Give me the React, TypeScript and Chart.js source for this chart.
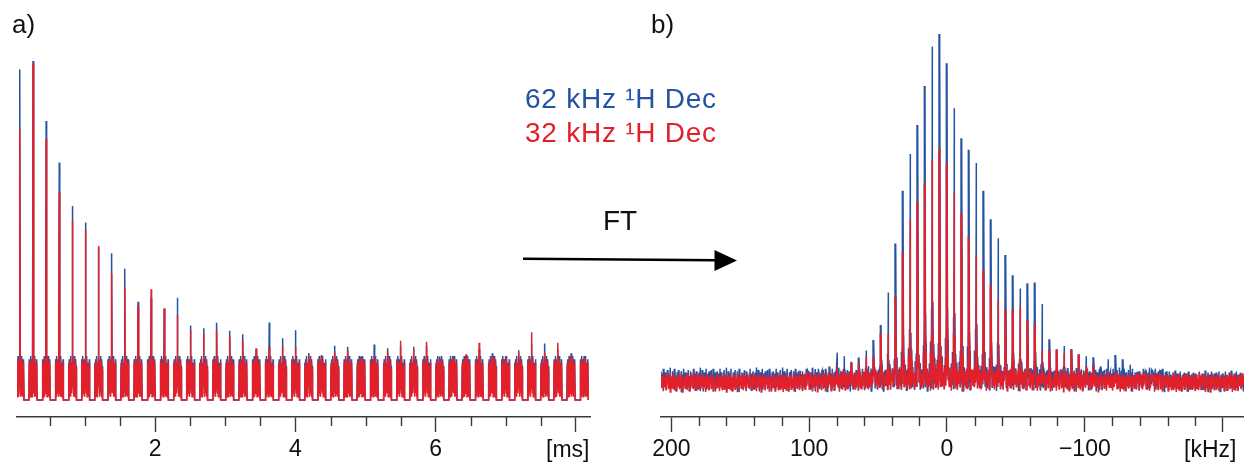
import React, { useEffect, useRef } from 'react';
import { Chart, registerables } from 'chart.js';

Chart.register(...registerables);

const BLUE = '#2453a2';
const RED = '#e3202a';
const AXIS = '#3a3a3a';
const FONT = '"Liberation Sans", Arial, Helvetica, sans-serif';

// ---------- panel a: echo train (time domain) ----------
const firstEchoMs = 0.0714;
const echoSpacingMs = 0.1871;
const echoPeaksBlue = [97.5, 100, 82.3, 70.1, 57.2, 52.4, 45.0, 43.3, 38.7, 29.0, 30.0, 27.0, 30.2, 22.0, 21.2, 22.8, 20.4, 19.4, 15.0, 22.9, 18.2, 20.6, 13.9, 13.3, 16.0, 15.7, 12.8, 16.4, 15.3, 15.9, 15.7, 16.0, 12.8, 13.0, 13.3, 15.0, 13.8, 13.0, 14.7, 16.7, 16.7, 15.0, 13.8, 13.0];
const echoPeaksRed = [79.9, 99.3, 76.9, 61.3, 52.8, 50.4, 45.4, 37.4, 33.2, 27.7, 32.7, 27.0, 25.1, 20.6, 19.7, 20.6, 18.7, 17.7, 15.3, 15.7, 16.0, 15.7, 13.5, 13.0, 14.2, 14.7, 12.5, 12.8, 14.5, 17.5, 15.0, 17.2, 12.0, 12.5, 13.5, 16.9, 13.0, 12.5, 14.0, 20.0, 14.0, 16.9, 13.0, 12.5];
// offsets (ms) of the points that shape one echo around its centre
const echoOffsets = [-0.0585, -0.054, -0.0495, -0.045, -0.0405, -0.036, -0.0315, -0.027, -0.0225, -0.018, -0.0135, -0.009, -0.0045, 0, 0.0045, 0.009, 0.0135, 0.018, 0.0225, 0.027, 0.0315, 0.036, 0.0405, 0.045, 0.0495, 0.054, 0.0585];
const echoCentreIndex = 13;
// body of an echo (value at each offset; centre replaced by the peak)
const echoBodyRedA = [0, 10, 2, 11, 1, 8, 3, 12, 1, 9, 2, 10, 4, 0, 5, 11, 1, 9, 3, 12, 2, 8, 1, 11, 3, 9, 0];
const echoBodyRedB = [0, 11, 3, 8, 1, 12, 2, 9, 4, 11, 1, 8, 3, 0, 4, 10, 2, 12, 1, 9, 4, 10, 1, 9, 2, 11, 0];
const echoBodyBlueA = [0, 11, 3, 12, 2, 9, 4, 13, 2, 10, 3, 11, 5, 0, 6, 12, 2, 10, 4, 13, 3, 9, 2, 12, 4, 10, 0];
const echoBodyBlueB = [0, 12, 4, 9, 2, 13, 3, 10, 5, 12, 2, 9, 4, 0, 5, 11, 3, 13, 2, 10, 5, 11, 2, 10, 3, 12, 0];
const majorTicksMs = ['2', '4', '6'];
const minorTicksMs = [0.5, 1, 1.5, 2.5, 3, 3.5, 4.5, 5, 5.5, 6.5, 7, 7.5];

// ---------- panel b: spectrum (frequency domain) ----------
const spikeSpacingKHz = 5.32;
const firstSpikeN = 20; // spikelet index of first entry (then decreasing)
const spikeBlue = [3.5, 3.5, 4.0, 3.7, 4.7, 8.7, 7.7, 6.1, 7.3, 9.3, 12.3, 16.6, 25.9, 40.0, 55.1, 65.6, 73.9, 85.1, 96.4, 100, 91.6, 78.7, 70.1, 66.8, 63.0, 55.1, 46.9, 41.5, 36.7, 30.9, 27.1, 28.6, 28.8, 22.6, 12.5, 9.7, 10.6, 9.7, 8.2, 7.7, 7.4, 4.7, 6.8, 8.0, 6.8, 5.2, 3.2, 3.0, 3.5, 3.0, 3.0];
const spikeRed = [2.5, 2.5, 2.8, 3.0, 3.0, 4.2, 3.7, 5.7, 5.7, 7.5, 7.5, 14.3, 14.2, 24.7, 37.3, 46.7, 51.9, 57.2, 63.9, 67.2, 62.8, 54.4, 48.6, 41.9, 36.7, 32.4, 28.1, 23.8, 20.9, 21.0, 22.0, 18.0, 17.0, 9.3, 9.5, 9.5, 8.5, 9.7, 8.2, 4.7, 5.2, 2.9, 3.7, 3.0, 2.5, 2.5, 2.5, 2.5, 2.5, 2.5, 2.5];
const spikeOffsetsKHz = [-1.8, -1.0, -0.45, 0, 0.45, 1.0, 1.8];
const spikeFractions = [0.05, 0.11, 0.22, 1, 0.22, 0.11, 0.05];
// noise floor by zone (zone starts at the given frequency, going right)
const noiseZoneStart = [207.5, 100, 60, -60, -100, -160];
const blueNoiseMid = [1.0, 1.0, 1.3, 1.2, 1.0, 0.6];
const blueNoiseAmp = [3.4, 3.4, 3.6, 3.4, 3.4, 3.0];
const redNoiseMid = [0.2, 0.4, 1.0, 0.5, 0.3, 0.2];
const redNoiseAmp = [2.8, 2.9, 3.2, 3.0, 2.8, 2.8];
const noiseTexture = [0.2, -0.6, 0.9, -0.3, 0.5, -0.9, 0.1, 0.7, -0.5, 0.3, -0.8, 0.6, -0.1, 1.0, -0.7, 0.4, -0.4, 0.8, -1.0, 0.2, 0.6, -0.6, 0.0, 0.9, -0.8, 0.3, -0.2, 0.5, -0.9, 0.7, -0.4, 0.1, 0.8, -0.7, 0.4, -0.5, 0.9, -0.2, 0.2, -1.0, 0.6, -0.3, 0.7, -0.6, 0.1, 0.5, -0.8, 0.9, -0.4, 0.0, 0.6, -0.9, 0.3, -0.1, 0.8, -0.6, 0.4, -0.7, 1.0, -0.3, 0.2, -0.5, 0.7, -0.8, 0.5, -0.2, 0.9, -0.6, 0.1, -0.9, 0.6, -0.4, 0.3, 0.8, -0.7, 0.0, -0.3, 0.7, -1.0, 0.4, -0.2, 0.9, -0.5, 0.2, -0.8, 0.6, -0.1, 0.5, -0.7, 0.8, -0.4, 0.3, -0.9, 0.7, -0.2, 0.1, -0.6];
const spectrumGridStepKHz = 0.42;
const minorTicksKHz = [180, 160, 140, 120, 80, 60, 40, 20, -20, -40, -60, -80, -120, -140, -160, -180];

type Pt = { x: number; y: number };

function buildEchoTrain(peaks: number[], bodies: number[][]): Pt[] {
  const pts: Pt[] = [];
  peaks.forEach((peak, k) => {
    const centre = firstEchoMs + k * echoSpacingMs;
    const body = bodies[k % bodies.length];
    echoOffsets.forEach((off, i) => {
      pts.push({ x: centre + off, y: i === echoCentreIndex ? peak : body[i] });
    });
  });
  return pts;
}

function zoneOf(f: number): number {
  let z = 0;
  for (let i = 0; i < noiseZoneStart.length; i++) if (f <= noiseZoneStart[i]) z = i;
  return z;
}

function buildSpectrum(spikes: number[], mids: number[], amps: number[], shift: number): Pt[] {
  const centres = spikes.map((_, j) => (firstSpikeN - j) * spikeSpacingKHz);
  const pts: Pt[] = [];
  let idx = 0;
  for (let f = noiseZoneStart[0]; f >= -215.5; f -= spectrumGridStepKHz) {
    idx++;
    if (centres.some((c) => Math.abs(c - f) < 0.3)) continue;
    const z = zoneOf(f);
    pts.push({ x: f, y: mids[z] + amps[z] * noiseTexture[(idx + shift) % noiseTexture.length] });
  }
  centres.forEach((c, j) => {
    spikeOffsetsKHz.forEach((off, i) => {
      const f = c + off;
      const z = zoneOf(f);
      const tex = noiseTexture[(j * 7 + i + shift) % noiseTexture.length];
      const y = spikeFractions[i] === 1 ? spikes[j] : mids[z] + 0.5 * amps[z] * tex + spikeFractions[i] * spikes[j];
      pts.push({ x: f, y });
    });
  });
  pts.sort((a, b) => a.x - b.x);
  return pts;
}

const minorTicksPlugin = {
  id: 'minorTicks',
  afterDraw(chart: any, _args: any, opts: any) {
    const scale = chart.scales.x;
    const ctx = chart.ctx;
    ctx.save();
    ctx.strokeStyle = opts.color;
    ctx.lineWidth = opts.width;
    for (const v of opts.values as number[]) {
      const px = Math.round(scale.getPixelForValue(v)) + 0.5;
      ctx.beginPath();
      ctx.moveTo(px, scale.top);
      ctx.lineTo(px, scale.top + opts.length);
      ctx.stroke();
    }
    ctx.restore();
  },
};

function lineDataset(data: Pt[], color: string) {
  return { data, borderColor: color, borderWidth: 1.5, pointRadius: 0, tension: 0, fill: false };
}

function xAxis(min: number, max: number, step: number, reverse: boolean, label: (v: number) => string) {
  return {
    type: 'linear',
    min,
    max,
    reverse,
    border: { display: true, color: AXIS, width: 1.5 },
    grid: { display: true, drawOnChartArea: false, drawTicks: true, tickLength: 15, color: AXIS, tickColor: AXIS, tickWidth: 1.4 },
    ticks: {
      stepSize: step,
      includeBounds: false,
      autoSkip: false,
      maxRotation: 0,
      padding: 4,
      color: '#111',
      font: { family: FONT, size: 23, lineHeight: '28px' },
      callback: (v: number) => label(v),
    },
  };
}

function ChartCanvas({ config, left, width, height }: { config: any; left: number; width: number; height: number }) {
  const ref = useRef<HTMLCanvasElement>(null);
  useEffect(() => {
    const chart = new Chart(ref.current as HTMLCanvasElement, config);
    return () => chart.destroy();
  }, []);
  return (
    <canvas
      ref={ref}
      width={width}
      height={height}
      style={{ position: 'absolute', left, top: 0, width, height }}
    />
  );
}

const configA = {
  type: 'line',
  data: {
    datasets: [
      lineDataset(buildEchoTrain(echoPeaksRed, [echoBodyRedA, echoBodyRedB]), RED),
      lineDataset(buildEchoTrain(echoPeaksBlue, [echoBodyBlueA, echoBodyBlueB]), BLUE),
    ],
  },
  options: {
    responsive: false,
    animation: false,
    events: [],
    layout: { padding: { left: 17, right: 10, top: 40, bottom: 2 } },
    plugins: {
      legend: { display: false },
      tooltip: { enabled: false },
      minorTicks: { values: minorTicksMs, length: 9, color: AXIS, width: 1.4 },
    },
    scales: {
      x: xAxis(0.03, 8.2, 2, false, (v) => (majorTicksMs.includes(String(v)) ? String(v) : '')),
      y: { display: false, min: -5.01, max: 106.2 },
    },
  },
  plugins: [minorTicksPlugin],
};

const configB = {
  type: 'line',
  data: {
    datasets: [
      lineDataset(buildSpectrum(spikeRed, redNoiseMid, redNoiseAmp, 0), RED),
      lineDataset(buildSpectrum(spikeBlue, blueNoiseMid, blueNoiseAmp, 41), BLUE),
    ],
  },
  options: {
    responsive: false,
    animation: false,
    events: [],
    layout: { padding: { left: 41, right: 0, top: 20, bottom: 2 } },
    plugins: {
      legend: { display: false },
      tooltip: { enabled: false },
      minorTicks: { values: minorTicksKHz, length: 9, color: AXIS, width: 1.4 },
    },
    scales: {
      x: xAxis(-215.5, 207.5, 100, true, (v) => (v === -200 ? '' : v < 0 ? '\u2212' + Math.abs(v) : String(v))),
      y: { display: false, min: -9.74, max: 104.0 },
    },
  },
  plugins: [minorTicksPlugin],
};

function Txt({ children, left, top, size, color = '#111', spacing = 0 }: any) {
  return (
    <div
      style={{
        position: 'absolute',
        left,
        top,
        fontFamily: FONT,
        fontSize: size,
        lineHeight: 1,
        color,
        letterSpacing: spacing,
        whiteSpace: 'nowrap',
      }}
    >
      {children}
    </div>
  );
}

export default function App() {
  return (
    <div style={{ position: 'absolute', left: 0, top: 0, width: 1244, height: 463, overflow: 'hidden', background: '#fff' }}>
      <ChartCanvas config={configA} left={0} width={600} height={470} />
      <ChartCanvas config={configB} left={620} width={624} height={470} />
      <svg width={1244} height={463} style={{ position: 'absolute', left: 0, top: 0, pointerEvents: 'none' }}>
        <line x1={523} y1={258.8} x2={717} y2={260.3} stroke="#000" strokeWidth={2.4} />
        <polygon points="714.5,250 737,260.6 714.5,271" fill="#000" />
      </svg>
      <Txt left={12} top={11} size={26}>a)</Txt>
      <Txt left={651} top={11} size={26}>b)</Txt>
      <Txt left={525} top={85} size={28} color={BLUE} spacing={0.75}>62 kHz ¹H Dec</Txt>
      <Txt left={525} top={119} size={28} color={RED} spacing={0.75}>32 kHz ¹H Dec</Txt>
      <Txt left={603} top={207} size={28}>FT</Txt>
      <Txt left={546} top={438} size={23}>[ms]</Txt>
      <Txt left={1184} top={438} size={23}>[kHz]</Txt>
    </div>
  );
}
